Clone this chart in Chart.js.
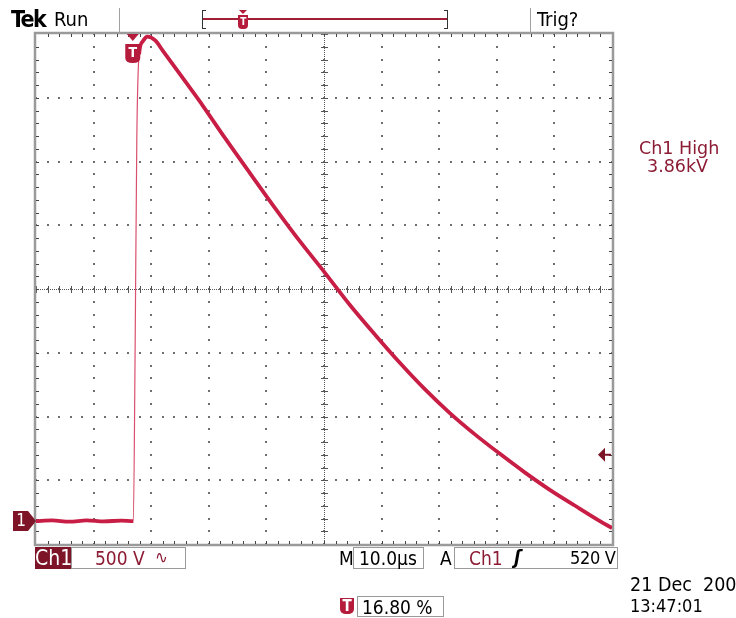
<!DOCTYPE html>
<html>
<head>
<meta charset="utf-8">
<script src="https://cdn.jsdelivr.net/npm/chart.js@4.4.1/dist/chart.umd.min.js"></script>
<style>
  html, body { margin: 0; padding: 0; background: #fff; }
  #wrap { position: relative; width: 736px; height: 618px; overflow: hidden; background: #fff; }
  #scope { position: absolute; left: 0; top: 0; }
  .t { position: absolute; white-space: nowrap; font-family: 'Liberation Sans Narrow', 'DejaVu Sans Condensed', 'Liberation Sans', sans-serif; line-height: 1; }
  .box { position: absolute; border: 1px solid #9a9a9a; background: #fff; box-sizing: border-box; }
  .maroon { color: #8c1c34; }
  .sep { position: absolute; width: 1px; background: #a0a0a0; }
</style>
</head>
<body>
<div id="wrap">
  <canvas id="scope" width="736" height="618"></canvas>

  <!-- top status bar -->
  <div class="t" style="left:11px; top:8px; font-size:23px; font-weight:bold; letter-spacing:-1.5px;">Tek</div>
  <div class="t" style="left:54px; top:9px; font-size:20px;">Run</div>
  <div class="sep" style="left:119px; top:8px; height:26px;"></div>
  <div class="sep" style="left:530px; top:8px; height:26px;"></div>
  <div class="t" style="left:537px; top:9px; font-size:20px;">Trig?</div>
  <div id="recbar"></div>

  <!-- measurement readout -->
  <div class="t maroon" style="left:639px; top:140px; font-size:17.5px; font-family:'DejaVu Sans', sans-serif;">Ch1 High</div>
  <div class="t maroon" style="left:647px; top:158px; font-size:17.5px; font-family:'DejaVu Sans', sans-serif;">3.86kV</div>

  <!-- bottom readouts -->
  <div class="t" style="left:35px; top:547px; width:36px; height:22px; background:#7d1428; color:#fff; font-size:21px; text-align:center; padding-top:1px; box-sizing:border-box;">Ch1</div>
  <div class="box" style="left:71px; top:547px; width:115px; height:22px;"></div>
  <div class="t maroon" style="left:95px; top:549px; font-size:19px;">500 V</div>
  <div class="t maroon" style="left:155px; top:549px; font-size:17px;">∿</div>

  <div class="t" style="left:339px; top:549px; font-size:19px;">M</div>
  <div class="box" style="left:353px; top:547px; width:71px; height:22px;"></div>
  <div class="t" style="left:359px; top:549px; font-size:19px;">10.0µs</div>

  <div class="t" style="left:440px; top:549px; font-size:19px;">A</div>
  <div class="box" style="left:454px; top:547px; width:164px; height:22px;"></div>
  <div class="t maroon" style="left:469px; top:549px; font-size:19px;">Ch1</div>
  <div class="t" style="left:514px; top:548px; font-size:19px; font-weight:bold; font-style:italic;">ʃ</div>
  <div class="t" style="left:570px; top:549px; font-size:18px; letter-spacing:-0.3px;">520 V</div>

  <div class="t" style="left:630px; top:575px; font-size:19.5px;">21 Dec&nbsp; 200</div>
  <div class="t" style="left:630px; top:597px; font-size:18px;">13:47:01</div>

  <div class="t" style="left:340px; top:598px; width:14px; height:16px; background:#b51c3c; color:#fff; font-size:15px; font-weight:bold; text-align:center; border-radius:0 0 5px 5px; padding-top:1px; box-sizing:border-box;">T</div>
  <div class="box" style="left:357px; top:596px; width:87px; height:21px;"></div>
  <div class="t" style="left:362px; top:598px; font-size:19px;">16.80 %</div>
</div>

<script>
// Ch1 trace, time in µs relative to trigger, voltage in V relative to ground
const timeUs = [-16.8, -14.0, -11.0, -8.0, -5.0, -2.0, 0.1, 0.4, 0.7, 1.1, 1.7,
                2.5, 3.9, 5.2, 9.4, 12.2, 16.0, 20.4, 24.7, 29.0, 33.4, 37.7, 42.1,
                46.4, 50.7, 55.1, 59.4, 63.8, 68.1, 72.4, 76.8, 81.1, 83.2];
const volts = [0, 5, -5, 5, -3, 4, 0, 1300, 2990, 3660, 3760,
               3800, 3770, 3690, 3430, 3255, 3005, 2725, 2455, 2195, 1945, 1695, 1460,
               1240, 1035, 845, 680, 525, 380, 245, 120, 0, -55];

// scope settings
const timePerDiv = 10;        // µs
const voltsPerDiv = 500;      // V
const triggerPos = 0.168;     // fraction of record before trigger
const groundDiv = -3.64;      // ground marker, divisions from centre
const triggerLevel = 520;     // V

const xMin = -triggerPos * 10 * timePerDiv;
const xMax = xMin + 10 * timePerDiv;
const yMin = (-4 - groundDiv) * voltsPerDiv;
const yMax = (4 - groundDiv) * voltsPerDiv;

const traceColor = '#c81e46';

// graticule: 10 x 8 divisions, dotted with minor ticks
const graticule = {
    id: 'graticule',
    beforeDatasetsDraw(chart) {
        const { ctx, chartArea: a } = chart;
        const dx = (a.right - a.left) / 10;
        const dy = (a.bottom - a.top) / 8;
        const cx = a.left + 5 * dx;
        const cy = a.top + 4 * dy;
        ctx.save();
        ctx.fillStyle = '#6e6e6e';
        // dots along major lines at every minor division
        for (let i = 1; i < 10; i++) {
            const x = Math.round(a.left + i * dx);
            for (let j = 0; j <= 40; j++) {
                const y = Math.round(a.top + j * dy / 5);
                ctx.fillRect(x - 1, y - 1, 2, 2);
            }
        }
        for (let j = 1; j < 8; j++) {
            const y = Math.round(a.top + j * dy);
            for (let i = 0; i <= 50; i++) {
                const x = Math.round(a.left + i * dx / 5);
                ctx.fillRect(x - 1, y - 1, 2, 2);
            }
        }
        // centre cross: fine dotted line with ticks
        ctx.fillStyle = '#555';
        for (let x = a.left; x < a.right; x += 2) ctx.fillRect(x, Math.round(cy), 1, 1);
        for (let y = a.top; y < a.bottom; y += 2) ctx.fillRect(Math.round(cx), y, 1, 1);
        for (let i = 0; i <= 50; i++) {
            const x = Math.round(a.left + i * dx / 5);
            ctx.fillRect(x, Math.round(cy) - 3, 1, 7);
        }
        for (let j = 0; j <= 40; j++) {
            const y = Math.round(a.top + j * dy / 5);
            ctx.fillRect(Math.round(cx) - 3, y, 7, 1);
        }
        // frame with inward minor ticks
        ctx.strokeStyle = '#9a9a9a';
        ctx.lineWidth = 2.5;
        ctx.strokeRect(a.left - 1, a.top - 1, a.right - a.left + 2, a.bottom - a.top + 2);
        ctx.fillStyle = '#444';
        for (let i = 1; i < 50; i++) {
            const x = Math.round(a.left + i * dx / 5);
            ctx.fillRect(x, a.top, 1, 3);
            ctx.fillRect(x, a.bottom - 3, 1, 3);
        }
        for (let j = 1; j < 40; j++) {
            const y = Math.round(a.top + j * dy / 5);
            ctx.fillRect(a.left, y, 3, 1);
            ctx.fillRect(a.right - 3, y, 3, 1);
        }
        ctx.restore();
    }
};

function drawTBadge(ctx, x, top, w, h) {
    ctx.beginPath();
    ctx.moveTo(x - w / 2, top);
    ctx.lineTo(x + w / 2, top);
    ctx.lineTo(x + w / 2, top + h - 5);
    ctx.quadraticCurveTo(x + w / 2, top + h, x, top + h);
    ctx.quadraticCurveTo(x - w / 2, top + h, x - w / 2, top + h - 5);
    ctx.closePath();
    ctx.fill();
    ctx.fillStyle = '#fff';
    ctx.font = 'bold 14px "DejaVu Sans Condensed", sans-serif';
    ctx.textAlign = 'center';
    ctx.textBaseline = 'middle';
    ctx.fillText('T', x, top + h / 2);
}

// trigger, ground and level markers placed through the scales
const markers = {
    id: 'markers',
    afterDatasetsDraw(chart) {
        const { ctx, chartArea: a, scales } = chart;
        const tx = scales.x.getPixelForValue(0);
        const gy = scales.y.getPixelForValue(0);
        const ly = scales.y.getPixelForValue(triggerLevel);
        ctx.save();
        // trigger position marker at top
        ctx.fillStyle = '#b51c3c';
        ctx.beginPath();
        ctx.moveTo(tx - 6, a.top);
        ctx.lineTo(tx + 6, a.top);
        ctx.lineTo(tx, a.top + 7);
        ctx.closePath();
        ctx.fill();
        drawTBadge(ctx, tx, a.top + 10, 15, 19);
        // ground marker "1"
        ctx.fillStyle = '#7d1428';
        ctx.beginPath();
        ctx.moveTo(13, gy - 10);
        ctx.lineTo(a.left - 8, gy - 10);
        ctx.lineTo(a.left, gy);
        ctx.lineTo(a.left - 8, gy + 10);
        ctx.lineTo(13, gy + 10);
        ctx.closePath();
        ctx.fill();
        ctx.fillStyle = '#fff';
        ctx.font = '17px "DejaVu Sans Condensed", sans-serif';
        ctx.textAlign = 'center';
        ctx.textBaseline = 'middle';
        ctx.fillText('1', 21, gy + 1);
        // trigger level arrow at right
        ctx.fillStyle = '#7d1428';
        ctx.beginPath();
        ctx.moveTo(a.right - 14, ly);
        ctx.lineTo(a.right - 7, ly - 7);
        ctx.lineTo(a.right - 7, ly + 7);
        ctx.closePath();
        ctx.fill();
        ctx.fillRect(a.right - 7, ly - 1, 6, 2);
        ctx.restore();
    }
};

// record-length bar in the status line
(function () {
    const bar = document.getElementById('recbar');
    const left = 202, right = 448, y = 19;
    const tx = left + triggerPos * (right - left);
    bar.innerHTML =
        '<div style="position:absolute;left:' + left + 'px;top:' + (y - 9) + 'px;width:4px;height:19px;border:1px solid #333;border-right:none;box-sizing:border-box;"></div>' +
        '<div style="position:absolute;left:' + (right - 4) + 'px;top:' + (y - 9) + 'px;width:4px;height:19px;border:1px solid #333;border-left:none;box-sizing:border-box;"></div>' +
        '<div style="position:absolute;left:' + (left + 1) + 'px;top:' + (y - 1) + 'px;width:' + (right - left - 2) + 'px;height:2px;background:#a01e36;"></div>' +
        '<div style="position:absolute;left:' + (tx - 4) + 'px;top:' + (y - 9) + 'px;width:0;height:0;border-left:4px solid transparent;border-right:4px solid transparent;border-top:4px solid #b51c3c;"></div>' +
        '<div style="position:absolute;left:' + (tx - 5) + 'px;top:' + (y - 4) + 'px;width:10px;height:14px;background:#b51c3c;border-radius:0 0 4px 4px;color:#fff;font:bold 10px \'DejaVu Sans Condensed\',sans-serif;text-align:center;line-height:13px;">T</div>';
})();

const points = timeUs.map((t, i) => ({ x: t, y: volts[i] }));

new Chart(document.getElementById('scope'), {
    type: 'line',
    data: {
        datasets: [{
            label: 'Ch1',
            data: points,
            borderColor: traceColor,
            borderWidth: 3.8,
            pointRadius: 0,
            cubicInterpolationMode: 'monotone',
            segment: {
                // the fast rising edge is drawn thin, as the scope shows it
                borderWidth: c => (c.p1.parsed.y - c.p0.parsed.y > 400 ? 1.2 : 3.8),
                borderColor: c => (c.p1.parsed.y - c.p0.parsed.y > 400 ? '#d9506e' : traceColor)
            }
        }]
    },
    options: {
        responsive: false,
        animation: false,
        layout: { padding: { left: 36, top: 34, right: 124, bottom: 74 } },
        scales: {
            x: { type: 'linear', min: xMin, max: xMax, display: false },
            y: { type: 'linear', min: yMin, max: yMax, display: false }
        },
        plugins: {
            legend: { display: false },
            tooltip: { enabled: false }
        }
    },
    plugins: [graticule, markers]
});
</script>
</body>
</html>
